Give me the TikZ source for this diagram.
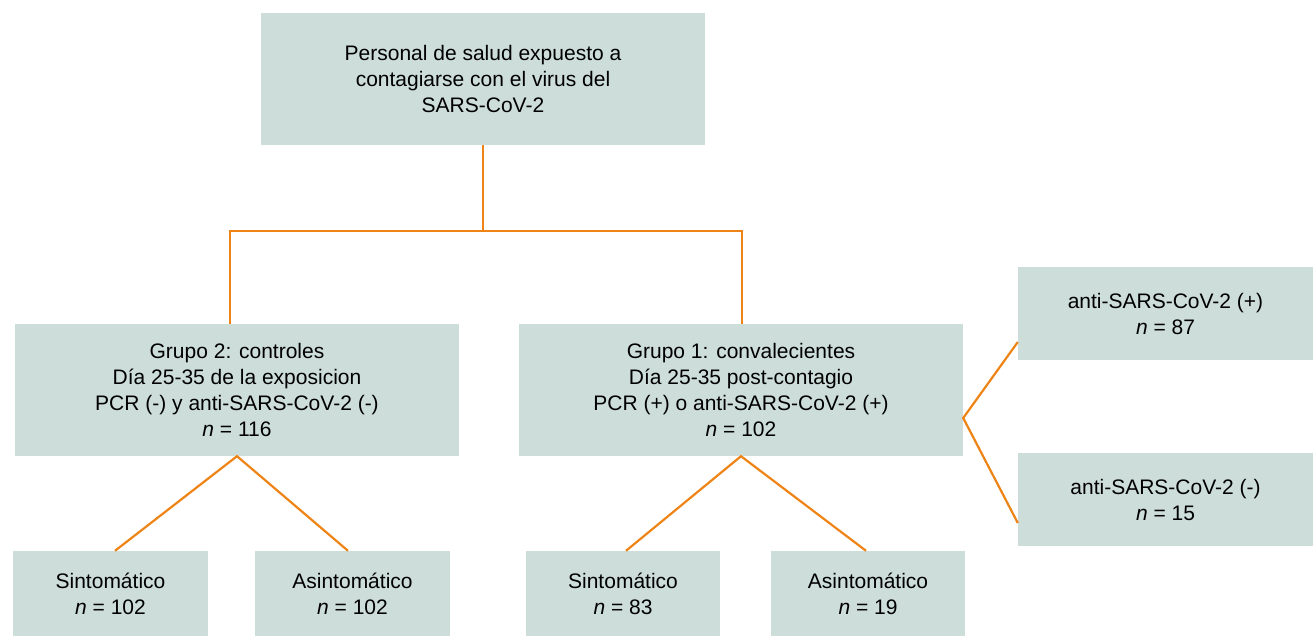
\documentclass[tikz,border=0pt]{standalone}
\usepackage{fontspec}
\setmainfont{Liberation Sans}
\definecolor{boxfill}{RGB}{205,221,217}
\definecolor{lineor}{RGB}{238,132,22}
\tikzset{
  box/.style={fill=boxfill, draw=none, inner sep=0pt, align=center,
    font=\fontsize{21}{26}\selectfont, text=black},
  conn/.style={draw=lineor, line width=2.2pt}
}
\begin{document}
\begin{tikzpicture}[x=1pt,y=-1pt]
\useasboundingbox (0,0) rectangle (1313,636);
% boxes
\node[box, minimum width=444pt, minimum height=132pt] (top) at (483,79)
  {\raisebox{4pt}{\parbox{444pt}{\centering Personal de salud expuesto a\\contagiarse con el virus del\\SARS-CoV-2}}};
\node[box, minimum width=444pt, minimum height=132pt] (g2) at (237,390)
  {Grupo 2: controles\\Día 25-35 de la exposicion\\PCR (-) y anti-SARS-CoV-2 (-)\\\textit{n} = 116};
\node[box, minimum width=444pt, minimum height=132pt] (g1) at (741,390)
  {Grupo 1: convalecientes\\Día 25-35 post-contagio\\PCR (+) o anti-SARS-CoV-2 (+)\\\textit{n} = 102};
\node[box, minimum width=195pt, minimum height=85pt] (s2) at (110.5,593.5)
  {Sintomático\\\textit{n} = 102};
\node[box, minimum width=195pt, minimum height=85pt] (a2) at (352.5,593.5)
  {Asintomático\\\textit{n} = 102};
\node[box, minimum width=194pt, minimum height=85pt] (s1) at (623,593.5)
  {Sintomático\\\textit{n} = 83};
\node[box, minimum width=194pt, minimum height=85pt] (a1) at (868,593.5)
  {Asintomático\\\textit{n} = 19};
\node[box, minimum width=295pt, minimum height=93pt] (p) at (1165.5,313.5)
  {anti-SARS-CoV-2 (+)\\\textit{n} = 87};
\node[box, minimum width=295pt, minimum height=93pt] (m) at (1165.5,499.5)
  {anti-SARS-CoV-2 (-)\\\textit{n} = 15};
% connectors
\coordinate (jl) at (230,231);
\coordinate (jr) at (742,231);
\draw[conn] (top.south) -- (top.south |- jl);
\draw[conn] (g2.north -| jl) -- (jl) -- (jr) -- (g1.north -| jr);
\draw[conn] ([xshift=4.5pt]s2.north) -- (g2.south) -- ([xshift=-4.5pt]a2.north);
\draw[conn] ([xshift=3pt]s1.north) -- (g1.south) -- ([xshift=-2pt]a1.north);
\draw[conn] ([yshift=-28.5pt]p.west) -- ([yshift=-28pt]g1.east) -- ([yshift=-23.5pt]m.west);
\end{tikzpicture}
\end{document}
